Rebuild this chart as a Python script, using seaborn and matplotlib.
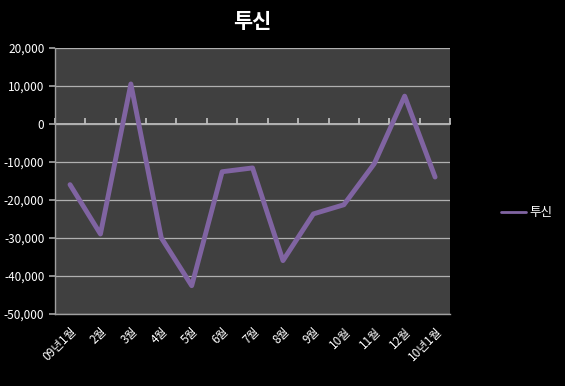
import matplotlib
matplotlib.use('Agg')
import matplotlib.pyplot as plt
import matplotlib.ticker as mticker
import pandas as pd
import seaborn as sns

# 투신 월별 순매수 (추정치)
months = ["09년1월", "2월", "3월", "4월", "5월", "6월", "7월",
          "8월", "9월", "10월", "11월", "12월", "10년1월"]
values = [-16000, -29000, 10500, -30000, -42600, -12600, -11600,
          -36000, -23700, -21300, -10500, 7300, -14000]
series_name = "투신"

sns.set_theme(style="dark")
plt.rcParams['font.family'] = ['Noto Sans CJK KR', 'DejaVu Sans']

df = pd.DataFrame({"month": months, "value": values, "series": series_name})
df["pos"] = range(len(df))

fig = plt.figure(figsize=(5.65, 3.86), dpi=100, facecolor="black")
ax = fig.add_axes([0.097, 0.187, 0.700, 0.689])
ax.set_facecolor("#404040")

sns.lineplot(data=df, x="pos", y="value", hue="series", palette=["#8064A2"],
             linewidth=3.5, ax=ax)

ymin, ymax = -50000, 20000
ax.set_ylim(ymin, ymax)
ax.set_xlim(-0.5, len(months) - 0.5)
ax.yaxis.set_major_locator(mticker.MultipleLocator(10000))
ax.yaxis.set_major_formatter(mticker.FuncFormatter(lambda v, p: f"{int(v):,}"))
ax.grid(axis="y", color="#b0b0b0", linewidth=0.9)
ax.grid(axis="x", visible=False)

ax.set_xticks(df["pos"])
ax.set_xticklabels(months, rotation=45, ha="right", rotation_mode="anchor")
ax.tick_params(axis="x", length=0, colors="white", labelsize=8.5, pad=8)
ax.tick_params(axis="y", length=4, color="#a0a0a0", colors="white", labelsize=8.5, left=True)
ax.set_xlabel("")
ax.set_ylabel("")

for side in ["top", "right"]:
    ax.spines[side].set_visible(False)
for side in ["left", "bottom"]:
    ax.spines[side].set_color("#a0a0a0")
    ax.spines[side].set_linewidth(1.0)

# 0 기준 가로축 (카테고리 경계 눈금)
zero_frac = (0 - ymin) / (ymax - ymin)
sec = ax.secondary_xaxis(zero_frac)
sec.set_xticks([i - 0.5 for i in range(len(months) + 1)])
sec.set_xticklabels([])
sec.tick_params(direction="out", length=4, color="#c0c0c0",
                labelbottom=False, labeltop=False)
sec.spines["bottom"].set_color("#c0c0c0")
sec.spines["bottom"].set_linewidth(1.0)
sec.spines["top"].set_color("#c0c0c0")

ax.set_title("투신", color="white", fontsize=15, fontweight="bold", pad=14)

leg = ax.legend(loc="center left", bbox_to_anchor=(1.1, 0.38), frameon=False,
                fontsize=9, handlelength=2.0, handletextpad=0.3)
for t in leg.get_texts():
    t.set_color("white")
for h in leg.get_lines():
    h.set_linewidth(2)

fig.savefig("out.png", dpi=100, facecolor="black")
